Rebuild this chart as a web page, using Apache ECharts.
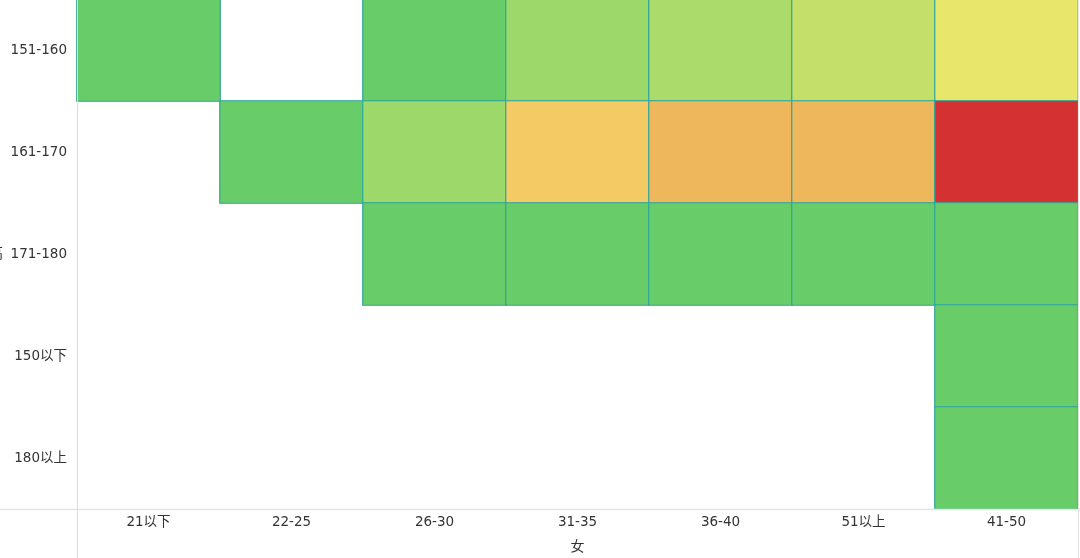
<!DOCTYPE html>
<html>
<head>
<meta charset="utf-8">
<script src="https://cdn.jsdelivr.net/npm/echarts@6/dist/echarts.min.js"></script>
<style>
html,body{margin:0;padding:0;background:#fff;}
#chart{width:1080px;height:558px;}
</style>
</head>
<body>
<div id="chart"></div>
<script>
var xCategories = ['21以下','22-25','26-30','31-35','36-40','51以上','41-50'];
var yCategories = ['151-160','161-170','171-180','150以下','180以上'];
var row151_160 = [1, null, 1, 5, 6, 8, 11];
var row161_170 = [null, 1, 5, 20.5, 30, 30, 40];
var row171_180 = [null, null, 1, 1, 1, 1, 1];
var row150down = [null, null, null, null, null, null, 1];
var row180up   = [null, null, null, null, null, null, 1];
var rows = [row151_160, row161_170, row171_180, row150down, row180up];

var data = [];
rows.forEach(function (r, yi) {
  r.forEach(function (v, xi) {
    if (v !== null) data.push([xi, yi, v]);
  });
});

var font = "'DejaVu Sans', 'Noto Sans CJK SC', sans-serif";
var chart = echarts.init(document.getElementById('chart'), null, {renderer: 'canvas'});
chart.setOption({
  backgroundColor: '#fff',
  animation: false,
  grid: {left: 77, right: 2, top: -1, bottom: 49, outerBoundsMode: 'none', containLabel: false},
  xAxis: {
    type: 'category',
    data: xCategories,
    name: '女',
    nameLocation: 'middle',
    nameGap: 31,
    nameTextStyle: {color: '#333', fontSize: 14, fontFamily: font},
    axisLine: {show: false},
    axisTick: {show: false},
    axisLabel: {color: '#333', fontSize: 13.5, fontFamily: font, margin: 7},
    splitLine: {show: false}
  },
  yAxis: {
    type: 'category',
    data: yCategories,
    inverse: true,
    name: '身高',
    nameLocation: 'middle',
    nameRotate: 0,
    nameGap: 74,
    nameTextStyle: {color: '#333', fontSize: 14, fontFamily: font},
    axisLine: {show: false},
    axisTick: {show: false},
    axisLabel: {color: '#333', fontSize: 13.5, fontFamily: font, margin: 10},
    splitLine: {show: false}
  },
  visualMap: {
    show: false,
    min: 1,
    max: 40,
    calculable: false,
    inRange: {color: ['#68cd69', '#e8e86c', '#f3ca64', '#efb65c', '#d43232']}
  },
  series: [{
    type: 'heatmap',
    data: data,
    itemStyle: {borderColor: '#2ea59c', borderWidth: 1.2},
    label: {show: false}
  }],
  graphic: [
    {type: 'line', shape: {x1: 0, y1: 509.5, x2: 1080, y2: 509.5}, style: {stroke: '#e4e4e4', lineWidth: 1.5}, z: 100},
    {type: 'line', shape: {x1: 77.5, y1: 0, x2: 77.5, y2: 558}, style: {stroke: '#dcdcdc', lineWidth: 1}, z: 100},
    {type: 'line', shape: {x1: 1078.5, y1: 0, x2: 1078.5, y2: 558}, style: {stroke: '#e4e4e4', lineWidth: 1}, z: 100}
  ]
});
</script>
</body>
</html>
